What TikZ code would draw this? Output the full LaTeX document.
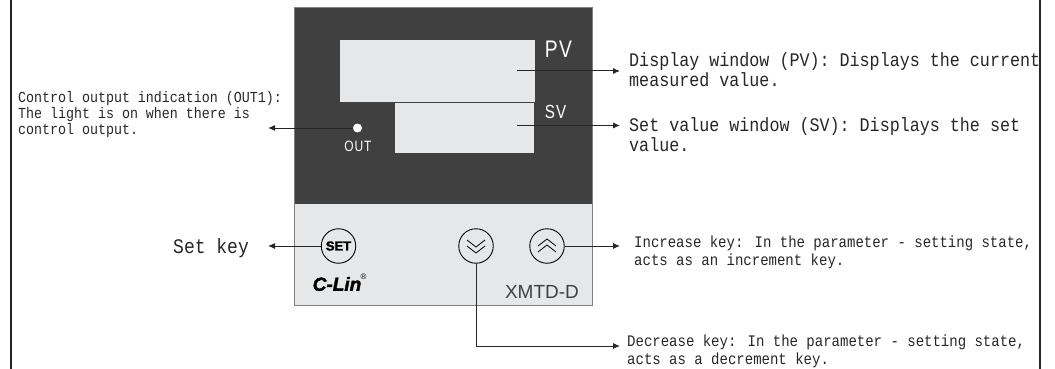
\documentclass[tikz,border=0pt]{standalone}
\usepackage{fontspec}
\usetikzlibrary{arrows.meta}
\setmainfont[FakeStretch=0.87]{Liberation Mono}
\newfontfamily\panelfont{Liberation Sans}
\newfontfamily\panelnarrow[FakeStretch=0.8, LetterSpace=6]{Liberation Sans}
\newfontfamily\logofont[BoldFeatures={FakeBold=2}, BoldItalicFeatures={FakeBold=2}]{Liberation Sans}
\tikzset{
    callout/.style={anchor=west, inner sep=0pt, align=left, text=note_ink, font=\fontsize{19.2}{20}\selectfont},
    calloutsmall/.style={callout, font=\fontsize{16.1}{18}\selectfont},
    leader/.style={draw=note_ink, line width=1pt, -{Latex[length=7pt,width=6pt]}},
    keycircle/.style={circle, draw=black, line width=0.9pt, minimum size=34.5pt, inner sep=0pt},
    window/.style={fill=panel_light},
    chevron/.style={draw=black, line width=0.8pt}
}
\begin{document}
\begin{tikzpicture}[x=1pt, y=-1pt]
    \definecolor{panel_dark}{HTML}{404041}
    \definecolor{panel_light}{HTML}{E6E7E8}
    \definecolor{note_ink}{HTML}{262626}
    \useasboundingbox (0,0) rectangle (1055,369);
    %\draw[help lines, step=50pt] (0,0) grid (1055,369);

    % outer frame
    \draw[line width=1.2pt, color=note_ink] (11,0) -- (11,369);
    \draw[line width=1.2pt, color=note_ink] (1040,0) -- (1040,369);

    % panel
    \path[fill=panel_dark] (294,7) rectangle (592.5,204);
    \path[fill=panel_light] (294,204) rectangle (592.5,305);
    \draw[color=gray, line width=0.9pt] (294,7) rectangle (592.5,305);
    \path[window] (340,40) rectangle (535,102);
    \path[window, draw=panel_dark, line width=0.8pt] (394,102) rectangle (534,153.5);
    \node[text=white, font=\panelnarrow\fontsize{24}{24}\selectfont] (pv_mark) at (558.5,49) {PV};
    \node[text=white, font=\panelnarrow\fontsize{19}{19}\selectfont] (sv_mark) at (555.5,112) {SV};
    \node[circle, fill=white, minimum size=9pt, inner sep=0pt] (out_led) at (357.5,128) {};
    \node[text=white, font=\panelnarrow\fontsize{15}{15}\selectfont] (out_mark) at (358,146) {OUT};

    % keys
    \node[keycircle, font=\logofont\bfseries\fontsize{13}{13}\selectfont] (set_key) at (338.5,246) {SET};
    \node[keycircle] (down_key) at (476,246) {};
    \node[keycircle] (up_key) at (547,246) {};
    \draw[chevron] (467,240) -- (476,247) -- (485,240);
    \draw[chevron] (467,246) -- (476,253) -- (485,246);
    \draw[chevron] (538,246) -- (547,239) -- (556,246);
    \draw[chevron] (538,252) -- (547,245) -- (556,252);
    \node[font=\logofont\bfseries\itshape\fontsize{19}{19}\selectfont] (logo) at (337,284) {C-Lin};
    \node[font=\panelfont\fontsize{8}{8}\selectfont] (logo_reg) at (363.5,277) {®};
    \node[text=panel_dark, font=\panelfont\fontsize{19}{19}\selectfont] (model) at (542,292) {XMTD-D};

    % notes
    \node[callout] (pv_note) at (629,70) {Display window (PV): Displays the current\\measured value.};
    \node[callout] (sv_note) at (629,135) {Set value window (SV): Displays the set\\value.};
    \node[calloutsmall] (up_note) at (634,252) {Increase key: In the parameter - setting state,\\acts as an increment key.};
    \node[calloutsmall] (down_note) at (627,351) {Decrease key: In the parameter - setting state,\\acts as a decrement key.};
    \node[callout, font=\fontsize{15.3}{16}\selectfont] (out_note) at (18,115) {Control output indication (OUT1):\\The light is on when there is\\control output.};
    \node[callout, font=\fontsize{20.7}{20}\selectfont] (set_note) at (173,248) {Set key};

    % connectors
    \coordinate (pv_from) at (517,71);
    \coordinate (pv_to) at (620,71);
    \coordinate (sv_from) at (517,125.5);
    \coordinate (sv_to) at (620,125.5);
    \coordinate (out_to) at (268,128);
    \coordinate (set_to) at (268,246);
    \coordinate (up_to) at (620,246);
    \coordinate (down_to) at (620,346);
    \draw[leader] (pv_from) -- (pv_to);
    \draw[leader] (sv_from) -- (sv_to);
    \draw[leader] (out_led) -- (out_to);
    \draw[leader] (set_key) -- (set_to);
    \draw[leader] (up_key) -- (up_to);
    \draw[leader] (down_key) |- (down_to);
\end{tikzpicture}
\end{document}
